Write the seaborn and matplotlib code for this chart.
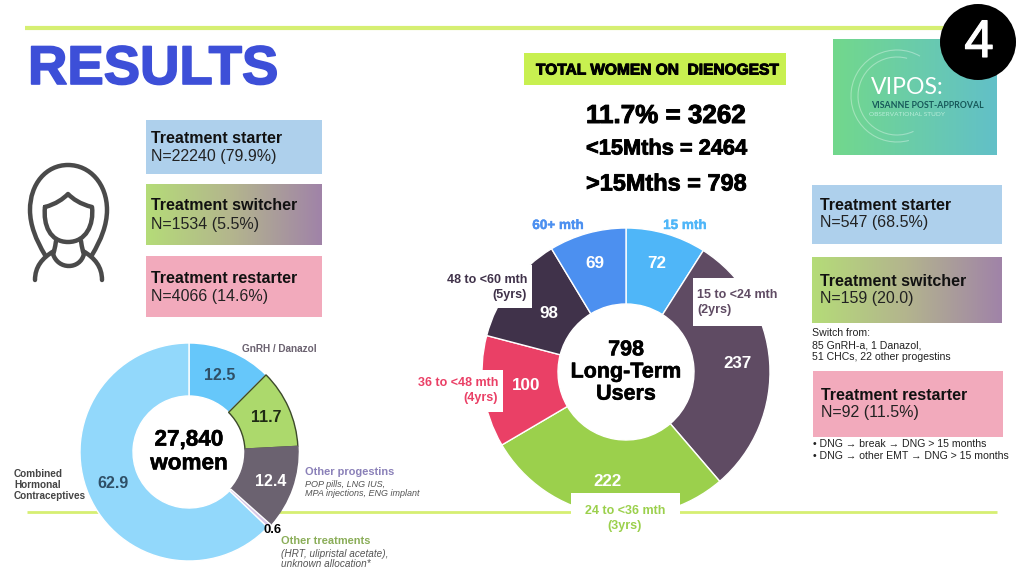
import numpy as np
import matplotlib
matplotlib.use('Agg')
import matplotlib.pyplot as plt
import matplotlib.patheffects as pe
import seaborn as sns
from matplotlib.patches import Rectangle, Circle, Arc, PathPatch
from matplotlib.path import Path

# left donut
prior_values = [12.5, 11.7, 12.4, 0.6, 62.9]
prior_labels = ["12.5", "11.7", "12.4", "0.6", "62.9"]
prior_colors = ["#66c7fa", "#acd96c", "#6b6270", "#d8c8e8", "#92d8fb"]
prior_edges = ["white", "#3c4a2a", "#6b6270", "white", "white"]

# right donut
duration_values = [72, 237, 222, 100, 98, 69]
duration_colors = ["#4fb6f8", "#5f4b63", "#9bd04c", "#ea4066", "#40324a", "#4c90f0"]

W, H = 1024, 576
LINE = "#d6ef72"
SANS = ["Liberation Sans", "DejaVu Sans"]
LOGO = ["Lato", "DejaVu Sans"]

sns.set_theme(style="white")
plt.rcParams['font.family'] = SANS

fig = plt.figure(figsize=(W / 100, H / 100), dpi=100, facecolor="white")


def pixel_axes(zorder):
    ax = fig.add_axes([0, 0, 1, 1], zorder=zorder)
    ax.set_xlim(0, W)
    ax.set_ylim(H, 0)
    ax.axis("off")
    ax.patch.set_alpha(0)
    return ax


def donut(values, colors, cx, cy, r, hole, edges=None, lw=1.0):
    pad = 1.03
    ax = fig.add_axes([(cx - r * pad) / W, 1 - (cy + r * pad) / H, 2 * r * pad / W, 2 * r * pad / H], zorder=2)
    wedges, _ = ax.pie(values, colors=colors, startangle=90, counterclock=False, radius=1,
                       wedgeprops=dict(width=1 - hole / r, edgecolor="white", linewidth=lw))
    ax.set_xlim(-pad, pad)
    ax.set_ylim(-pad, pad)
    if edges:
        for w, e in zip(wedges, edges):
            w.set_edgecolor(e)
    return ax


def gradient(ax, box, colors, zorder=1):
    x0, y0, x1, y1 = box
    grad = np.array(sns.blend_palette(colors, 256))[None, :, :]
    ax.imshow(grad, extent=[x0, x1, y1, y0], aspect="auto", zorder=zorder, interpolation="bilinear")
    ax.set_xlim(0, W)
    ax.set_ylim(H, 0)


back = pixel_axes(1)
front = pixel_axes(3)


def label(x, y, s, px, color="black", weight="normal", ha="left", va="center", family=SANS, style="normal",
          ls=1.15, heavy=0):
    t = front.text(x, y, s, fontsize=px * 0.72, color=color, fontweight=weight, ha=ha, va=va,
                   family=family, style=style, linespacing=ls, zorder=10)
    if heavy:
        t.set_path_effects([pe.withStroke(linewidth=heavy, foreground=color)])
    return t


# rules
back.plot([25, 945], [28, 28], color=LINE, lw=3, solid_capstyle="butt")
back.plot([27, 997], [512, 512], color=LINE, lw=2, solid_capstyle="butt")

# title
label(28, 70, "RESULTS", 54.5, color="#3d4fd8", weight="bold", heavy=1.2)

# woman icon
icon = "#4a4a4a"
hair = Path([(45, 255), (36, 240), (30, 225), (30, 210), (30, 184), (46, 165), (68, 165),
             (90, 165), (107, 184), (107, 210), (107, 225), (101, 240), (92, 255)],
            [Path.MOVETO] + [Path.CURVE4] * 12)
face = Path([(45, 207), (56, 204), (63, 199), (68, 194), (73, 199), (80, 204), (92, 207),
             (94, 225), (86, 242), (68, 242), (50, 242), (43, 225), (45, 207)],
            [Path.MOVETO] + [Path.CURVE4] * 12)
neck = Path([(56, 241), (55, 248), (54, 252), (53, 254), (58, 270), (80, 270), (84, 254), (83, 252), (82, 248), (81, 241)],
            [Path.MOVETO] + [Path.CURVE4] * 9)
shoulder_l = Path([(35, 280), (35, 267), (42, 258), (54, 251)], [Path.MOVETO] + [Path.CURVE4] * 3)
shoulder_r = Path([(102, 280), (102, 267), (95, 258), (83, 251)], [Path.MOVETO] + [Path.CURVE4] * 3)
for p in [hair, face, neck, shoulder_l, shoulder_r]:
    front.add_patch(PathPatch(p, fill=False, edgecolor=icon, lw=3.2, capstyle="round", joinstyle="round"))

# left category boxes
BLUE = "#aed0ec"
PINK = "#f2aabc"
SW = ["#b5dc78", "#b3b48e", "#a083a8"]
back.add_patch(Rectangle((146, 120), 176, 54, color=BLUE, lw=0))
gradient(back, (146, 184, 322, 245), SW)
back.add_patch(Rectangle((146, 256), 176, 61, color=PINK, lw=0))
for y, head, n in [(147.5, "Treatment starter", "N=22240 (79.9%)"),
                   (215, "Treatment switcher", "N=1534 (5.5%)"),
                   (287.5, "Treatment restarter", "N=4066 (14.6%)")]:
    label(151, y - 9, head, 16, weight="bold", color="#111111")
    label(151, y + 9, n, 16, color="#222222")

# right category boxes
back.add_patch(Rectangle((812, 185), 190, 59, color=BLUE, lw=0))
gradient(back, (812, 257, 1002, 323), SW)
back.add_patch(Rectangle((813, 371), 190, 66, color=PINK, lw=0))
for x, y, head, n in [(820, 214, "Treatment starter", "N=547 (68.5%)"),
                      (820, 290, "Treatment switcher", "N=159 (20.0)"),
                      (821, 404, "Treatment restarter", "N=92 (11.5%)")]:
    label(x, y - 9, head, 16, weight="bold", color="#111111")
    label(x, y + 9, n, 16, color="#222222")
label(812, 345, "Switch from:\n85 GnRH-a, 1 Danazol,\n51 CHCs, 22 other progestins", 10.5, color="#222222", ls=1.2)
label(813, 450, "• DNG → break → DNG > 15 months\n• DNG → other EMT → DNG > 15 months", 10.5, color="#222222", ls=1.15)

# middle header
back.add_patch(Rectangle((524, 53), 262, 32, color="#c8f050", lw=0))
label(536, 70, "TOTAL WOMEN ON  DIENOGEST", 15.5, weight="bold", heavy=0.7)
label(586, 116, "11.7% = 3262", 26, weight="bold", heavy=0.7)
label(586, 149, "<15Mths = 2464", 21.8, weight="bold", heavy=0.6)
label(586, 184, ">15Mths = 798", 23.5, weight="bold", heavy=0.6)

# logo
gradient(back, (833, 39, 997, 155), ["#72d88c", "#62c0c8"])
for r, a1, a2 in [(46, 75, 300), (39, 65, 285)]:
    back.add_patch(Arc((897, 96), 2 * r, 2 * r, theta1=a1, theta2=a2, color="white", alpha=0.35, lw=0.8, zorder=3))
label(871, 88, "VIPOS:", 23, color="white", family=LOGO)
label(871, 105, "VISANNE POST-APPROVAL", 8.8, color="#17595a", weight="bold", family=LOGO)
label(869, 115, "OBSERVATIONAL STUDY", 6.5, color="#b8ecd8", family=LOGO)
front.add_patch(Circle((978, 42), 38, color="black", lw=0, zorder=5))
label(979, 43, "4", 53, color="white", ha="center", heavy=0.8)

# donuts
donut(prior_values, prior_colors, 189, 452, 109, 56, edges=prior_edges)
donut(duration_values, duration_colors, 626, 372, 144, 68)

# left donut texts
for x, y, s, c in [(220, 376, prior_labels[0], "#2f4f66"), (266, 418, prior_labels[1], "#1f2a14"),
                   (271, 481, prior_labels[2], "white"), (113, 484, prior_labels[4], "#2f4f66")]:
    label(x, y, s, 16, color=c, weight="bold", ha="center")
label(273, 530, prior_labels[3], 13, weight="bold", ha="center")
label(189, 452, "27,840\nwomen", 22.5, weight="bold", ha="center", ls=1.17, heavy=0.4)
label(242, 349, "GnRH / Danazol", 10, color="#6b6270", weight="bold")
label(14, 485, "Combined\nHormonal\nContraceptives", 10, color="#444444", weight="bold", ls=1.1)
label(305, 472, "Other progestins", 11, color="#8a80b8", weight="bold")
label(305, 489, "POP pills, LNG IUS,\nMPA injections, ENG implant", 9, color="#555555", style="italic", ls=1.1)
label(281, 541, "Other treatments", 11, color="#8aad58", weight="bold")
label(281, 559, "(HRT, ulipristal acetate),\nunknown allocation*", 10, color="#555555", style="italic", ls=1.05)

# white tabs on the right donut
for x0, y0, x1, y1 in [(693, 278, 763, 326), (446, 265, 532, 308), (416, 370, 503, 412), (571, 493, 680, 538)]:
    front.add_patch(Rectangle((x0, y0), x1 - x0, y1 - y0, color="white", lw=0, zorder=5))

# right donut texts
for x, y, s, c in [(657, 263, "72", "white"), (737, 363, "237", "white"), (607, 482, "222", "white"),
                   (526, 385, "100", "white"), (549, 314, "98", "white"), (595, 263, "69", "white")]:
    label(x, y, s, 17, color=c, weight="bold", ha="center")
label(626, 372, "798\nLong-Term\nUsers", 21.5, weight="bold", ha="center", ls=1.21, heavy=0.4)
label(685, 225, "15 mth", 13.5, color="#4fb6f8", weight="bold", ha="center", heavy=0.3)
label(558, 225, "60+ mth", 13.5, color="#4c90f0", weight="bold", ha="center", heavy=0.3)
label(697, 302.5, "15 to <24 mth\n(2yrs)", 12.5, color="#5f4b63", weight="bold", ls=1.3)
label(527, 287.5, "48 to <60 mth\n(5yrs)", 12.5, color="#40324a", weight="bold", ha="right", ls=1.3)
label(498, 390.5, "36 to <48 mth\n(4yrs)", 12.5, color="#ea4066", weight="bold", ha="right", ls=1.3)
label(625, 518.5, "24 to <36 mth\n(3yrs)", 12.5, color="#9bd04c", weight="bold", ha="center", ls=1.3)

plt.savefig("out.png", dpi=100)
